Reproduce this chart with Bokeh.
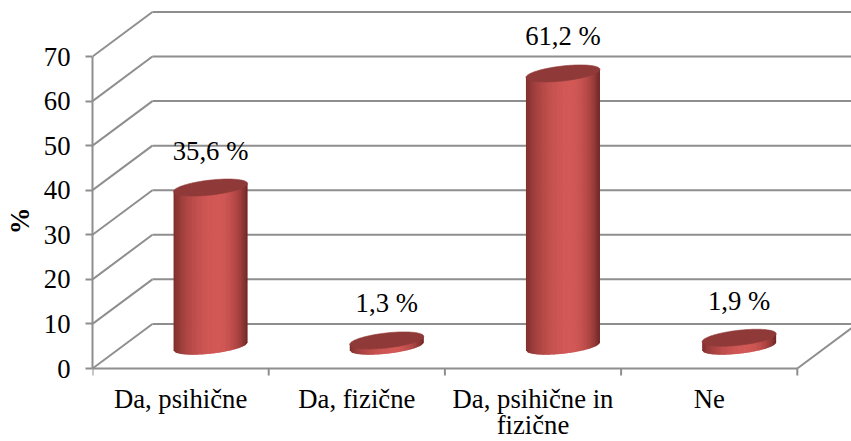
import numpy as np
from bokeh.plotting import figure
from bokeh.models import Range1d, FixedTicker
from bokeh.core.properties import value
from bokeh.embed import file_html
from bokeh.resources import INLINE

# ---- data ----
categories = ["Da, psihične", "Da, fizične", "Da, psihične in\nfizične", "Ne"]
values = [35.6, 1.3, 61.2, 1.9]
y_ticks = [0, 10, 20, 30, 40, 50, 60, 70]

FONT = "Liberation Serif"
FS = "26.7px"
GRID = "#8E8E8E"
DX, DY = 0.34, 10.0          # depth offset of the back wall (category units, value units)
PX_X, PX_Y = 176.2, 4.457    # pixels per data unit
A = 37.0 / PX_X              # half width of a cylinder
B = 7.5 / PX_Y               # half height of ellipse
TILT = 4.0 / PX_Y            # ellipse tilt
N = 60

W, H, LEFT, ZERO_Y = 851, 441, 92, 368
n = len(categories)
p = figure(width=W, height=H,
           x_range=Range1d(0, (W - LEFT) / PX_X),
           y_range=Range1d(-(H - ZERO_Y) / PX_Y, ZERO_Y / PX_Y),
           output_backend="svg", toolbar_location=None, x_axis_location=None,
           min_border_left=LEFT, min_border_right=0, min_border_top=0, min_border_bottom=0)
p.outline_line_color = None
p.grid.visible = False
p.background_fill_color = "white"

# ---- y axis ----
ya = p.yaxis[0]
ya.ticker = FixedTicker(ticks=y_ticks)
ya.bounds = (y_ticks[0], y_ticks[-1])
ya.axis_line_color = GRID
ya.axis_line_width = 2
ya.major_tick_line_color = GRID
ya.major_tick_line_width = 2
ya.major_tick_in = 0
ya.major_tick_out = 7
ya.minor_tick_line_color = None
ya.major_label_text_font = FONT
ya.major_label_text_font_size = FS
ya.major_label_text_color = "black"
ya.major_label_standoff = 15
ya.axis_label = "%"
ya.axis_label_text_font = FONT
ya.axis_label_text_font_style = "bold"
ya.axis_label_text_font_size = FS
ya.axis_label_text_color = "black"
ya.axis_label_standoff = 6

# ---- floor front edge and category ticks ----
tick_len = 7 / PX_Y
p.segment(x0=[0], y0=[0], x1=[n], y1=[0], line_color=GRID, line_width=2)
p.segment(x0=list(range(n + 1)), y0=[0] * (n + 1), x1=list(range(n + 1)), y1=[-tick_len] * (n + 1),
          line_color=GRID, line_width=2)

# ---- 3D walls ----
back_y = [t + DY for t in y_ticks]
p.segment(x0=[DX] * len(back_y), y0=back_y, x1=[10] * len(back_y), y1=back_y,
          line_color=GRID, line_width=2)
p.segment(x0=[0] * len(y_ticks), y0=y_ticks, x1=[DX] * len(y_ticks), y1=back_y,
          line_color=GRID, line_width=2)
p.segment(x0=[n], y0=[0], x1=[n + DX], y1=[DY], line_color=GRID, line_width=2)

# ---- cylinders ----
def shade(u):
    u0 = 0.2
    if u < u0:
        t = (u - u0) / (1 + u0)
        dark = np.array([122, 44, 42])
    else:
        t = (u - u0) / (1 - u0)
        dark = np.array([102, 34, 32])
    light = np.array([210, 88, 86])
    k = np.cos(t * np.pi / 2) ** 0.7
    c = dark + (light - dark) * k
    return "#%02x%02x%02x" % tuple(int(round(x)) for x in c)

edges = np.linspace(-1, 1, N + 1)
half = (edges[1] - edges[0]) * 0.6
xs, ys, cols = [], [], []
tops_x, tops_y = [], []
tt = np.linspace(0, 2 * np.pi, 120)
for i, v in enumerate(values):
    cx = i + 0.5 + DX / 2
    yb = DY / 2
    yt = yb + v
    for k in range(N):
        ul, ur = edges[k], min(1.0, edges[k + 1] + half)
        xl, xr = cx + A * ul, cx + A * ur
        bl = yb + TILT * ul - B * np.sqrt(max(0, 1 - ul * ul))
        br = yb + TILT * ur - B * np.sqrt(max(0, 1 - ur * ur))
        xs.append([xl, xr, xr, xl])
        ys.append([bl, br, yt + TILT * ur, yt + TILT * ul])
        cols.append(shade((edges[k] + edges[k + 1]) / 2))
    tops_x.append(list(cx + A * np.cos(tt)))
    tops_y.append(list(yt + TILT * np.cos(tt) + B * np.sin(tt)))

p.patches(xs=xs, ys=ys, fill_color=cols, line_color=None)
p.patches(xs=tops_x, ys=tops_y, fill_color="#8F3A38", line_color="#8F3A38", line_width=0.6)

# ---- data labels ----
lab_x = [i + 0.5 + DX / 2 for i in range(n)]
lab_y = [DY / 2 + v + 8.3 for v in values]
lab_t = [("%.1f %%" % v).replace(".", ",") for v in values]
p.text(x=lab_x, y=lab_y, text=lab_t, text_align="center", text_baseline="middle",
       text_font=value(FONT), text_font_size=FS, text_color="black")

# ---- category labels ----
p.text(x=[i + 0.5 for i in range(n)], y=[-15.5 / PX_Y] * n, text=categories,
       text_align="center", text_baseline="top", text_line_height=0.86,
       text_font=value(FONT), text_font_size=FS, text_color="black")

open("out.html", "w").write(file_html(p, INLINE))
